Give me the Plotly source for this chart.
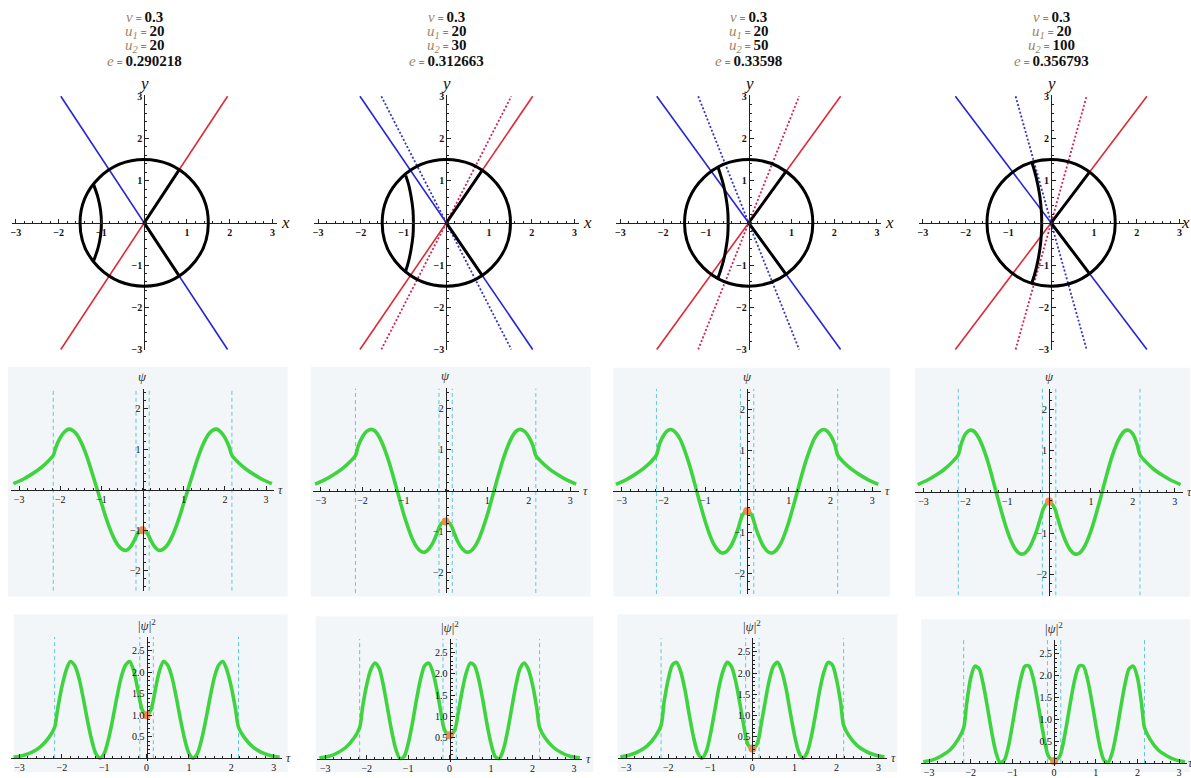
import math
import plotly.graph_objects as go

W, H = 1191, 778
SERIF = "Liberation Serif, Times New Roman, serif"
MINUS = "\u2212"

# parameters printed above each column
V_VAL = ["0.3", "0.3", "0.3", "0.3"]
U1_VAL = ["20", "20", "20", "20"]
U2_VAL = ["20", "30", "50", "100"]
E_VAL = ["0.290218", "0.312663", "0.33598", "0.356793"]

# phase-plane diagrams (top row)
CIRCLE_R = 1.5
LINE_Y_END = 3.0
SOLID_X_END = [1.95, 2.02, 2.15, 2.24]      # |x| where the solid red / blue lines reach y = ±3
DOTTED_X_END = [None, 1.52, 1.18, 0.83]     # same for the dotted pair
ARC_Y = [
    [0.90, 0.60, 0.30, 0.0, -0.30, -0.60, -0.92],
    [1.12, 0.90, 0.60, 0.30, 0.0, -0.30, -0.60, -0.90, -1.14],
    [1.30, 0.90, 0.60, 0.30, 0.0, -0.30, -0.60, -0.90, -1.32],
    [1.43, 1.20, 0.90, 0.60, 0.30, 0.0, -0.30, -0.60, -0.90, -1.20, -1.45],
]
ARC_X = [
    [-1.18, -1.08, -1.02, -1.00, -1.02, -1.08, -1.19],
    [-0.95, -0.88, -0.82, -0.78, -0.77, -0.78, -0.82, -0.88, -0.95],
    [-0.71, -0.59, -0.53, -0.49, -0.48, -0.49, -0.53, -0.59, -0.72],
    [-0.45, -0.38, -0.31, -0.26, -0.23, -0.22, -0.23, -0.26, -0.31, -0.38, -0.46],
]

# wave functions (middle and bottom rows)
TAU = [-3.14, -2.9, -2.7, -2.5, -2.3, -2.17, -2.1, -2.0, -1.9, -1.8, -1.7, -1.6, -1.5, -1.4,
       -1.3, -1.2, -1.1, -1.0, -0.9, -0.8, -0.7, -0.6, -0.5, -0.4, -0.3, -0.2, -0.15, -0.1,
       0.0, 0.1, 0.15, 0.2, 0.3, 0.4, 0.5, 0.6, 0.7, 0.8, 0.9, 1.0, 1.1, 1.2, 1.3, 1.4,
       1.5, 1.6, 1.7, 1.8, 1.9, 2.0, 2.1, 2.17, 2.3, 2.5, 2.7, 2.9, 3.14]

PSI_1 = [0.15, 0.26, 0.38, 0.52, 0.70, 0.85, 1.07, 1.29, 1.43, 1.50, 1.47, 1.37, 1.19, 0.95,
         0.66, 0.33, 0.00, -0.33, -0.66, -0.95, -1.19, -1.37, -1.47, -1.50, -1.42, -1.25, -1.14, -1.06,
         -1.00, -1.06, -1.14, -1.25, -1.42, -1.50, -1.47, -1.37, -1.19, -0.95, -0.66, -0.33, 0.00, 0.33,
         0.66, 0.95, 1.19, 1.37, 1.47, 1.50, 1.43, 1.29, 1.07, 0.85, 0.70, 0.52, 0.38, 0.26, 0.15]
PSI_2 = [0.16, 0.27, 0.39, 0.53, 0.71, 0.86, 1.10, 1.32, 1.45, 1.50, 1.46, 1.32, 1.10, 0.82,
         0.49, 0.13, -0.24, -0.60, -0.91, -1.18, -1.37, -1.48, -1.50, -1.42, -1.26, -1.02, -0.88, -0.80,
         -0.75, -0.80, -0.88, -1.02, -1.26, -1.42, -1.50, -1.48, -1.37, -1.18, -0.91, -0.60, -0.24, 0.13,
         0.49, 0.82, 1.10, 1.32, 1.46, 1.50, 1.45, 1.32, 1.10, 0.86, 0.71, 0.53, 0.39, 0.27, 0.16]
PSI_3 = [0.17, 0.28, 0.40, 0.54, 0.72, 0.88, 1.14, 1.36, 1.48, 1.50, 1.42, 1.26, 1.01, 0.71,
         0.36, -0.02, -0.39, -0.74, -1.04, -1.28, -1.43, -1.50, -1.47, -1.35, -1.14, -0.86, -0.68, -0.56,
         -0.48, -0.56, -0.68, -0.86, -1.14, -1.35, -1.47, -1.50, -1.43, -1.28, -1.04, -0.74, -0.39, -0.02,
         0.36, 0.71, 1.01, 1.26, 1.42, 1.50, 1.48, 1.36, 1.14, 0.88, 0.72, 0.54, 0.40, 0.28, 0.17]
PSI_4 = [0.18, 0.29, 0.41, 0.55, 0.74, 0.90, 1.16, 1.40, 1.49, 1.47, 1.34, 1.13, 0.85, 0.51,
         0.13, -0.25, -0.61, -0.94, -1.20, -1.39, -1.49, -1.49, -1.39, -1.20, -0.94, -0.61, -0.44, -0.33,
         -0.23, -0.33, -0.44, -0.61, -0.94, -1.20, -1.39, -1.49, -1.49, -1.39, -1.20, -0.94, -0.61, -0.25,
         0.13, 0.51, 0.85, 1.13, 1.34, 1.47, 1.49, 1.40, 1.16, 0.90, 0.74, 0.55, 0.41, 0.29, 0.18]

PSI_SQ_1 = [0.02, 0.07, 0.14, 0.27, 0.49, 0.72, 1.14, 1.66, 2.04, 2.25, 2.16, 1.88, 1.42, 0.90,
            0.44, 0.11, 0.00, 0.11, 0.44, 0.90, 1.42, 1.88, 2.16, 2.25, 2.02, 1.56, 1.30, 1.12,
            1.00, 1.12, 1.30, 1.56, 2.02, 2.25, 2.16, 1.88, 1.42, 0.90, 0.44, 0.11, 0.00, 0.11,
            0.44, 0.90, 1.42, 1.88, 2.16, 2.25, 2.04, 1.66, 1.14, 0.72, 0.49, 0.27, 0.14, 0.07, 0.02]
PSI_SQ_2 = [0.03, 0.07, 0.15, 0.28, 0.50, 0.74, 1.21, 1.74, 2.10, 2.25, 2.13, 1.74, 1.21, 0.67,
            0.24, 0.02, 0.06, 0.36, 0.83, 1.39, 1.88, 2.19, 2.25, 2.02, 1.59, 1.04, 0.77, 0.64,
            0.56, 0.64, 0.77, 1.04, 1.59, 2.02, 2.25, 2.19, 1.88, 1.39, 0.83, 0.36, 0.06, 0.02,
            0.24, 0.67, 1.21, 1.74, 2.13, 2.25, 2.10, 1.74, 1.21, 0.74, 0.50, 0.28, 0.15, 0.07, 0.03]
PSI_SQ_3 = [0.03, 0.08, 0.16, 0.29, 0.52, 0.77, 1.30, 1.85, 2.19, 2.25, 2.02, 1.59, 1.02, 0.50,
            0.13, 0.00, 0.15, 0.55, 1.08, 1.64, 2.04, 2.25, 2.16, 1.82, 1.30, 0.74, 0.46, 0.31,
            0.23, 0.31, 0.46, 0.74, 1.30, 1.82, 2.16, 2.25, 2.04, 1.64, 1.08, 0.55, 0.15, 0.00,
            0.13, 0.50, 1.02, 1.59, 2.02, 2.25, 2.19, 1.85, 1.30, 0.77, 0.52, 0.29, 0.16, 0.08, 0.03]
PSI_SQ_4 = [0.03, 0.08, 0.17, 0.30, 0.55, 0.81, 1.35, 1.96, 2.22, 2.16, 1.80, 1.28, 0.72, 0.26,
            0.02, 0.06, 0.37, 0.88, 1.44, 1.93, 2.22, 2.22, 1.93, 1.44, 0.88, 0.37, 0.19, 0.11,
            0.05, 0.11, 0.19, 0.37, 0.88, 1.44, 1.93, 2.22, 2.22, 1.93, 1.44, 0.88, 0.37, 0.06,
            0.02, 0.26, 0.72, 1.28, 1.80, 2.16, 2.22, 1.96, 1.35, 0.81, 0.55, 0.30, 0.17, 0.08, 0.03]

PSI = [PSI_1, PSI_2, PSI_3, PSI_4]
PSI_SQ = [PSI_SQ_1, PSI_SQ_2, PSI_SQ_3, PSI_SQ_4]
PSI_AT_0 = [-1.00, -0.75, -0.48, -0.23]
PSI_SQ_AT_0 = [1.00, 0.56, 0.23, 0.05]
DASH_TAU = [-2.17, -0.16, 0.16, 2.17]

# ---------------- page geometry (pixel origin of each panel, px per unit) ----------------
R1_ORIGIN = [(143.3, 221.0), (445.7, 221.0), (748.3, 221.0), (1051.0, 221.0)]
R1_S = 42.8
R1_XR, R1_YR = [-3.1, 3.1], [-3.02, 3.02]

R2_ORIGIN = [(141.7, 491.7), (445.0, 492.7), (746.7, 493.3), (1049.0, 494.0)]
R2_SX = [41.2, 41.6, 41.8, 41.9]
R2_SY = [41.0, 41.5, 41.7, 42.0]
R2_XR, R2_YR = [-3.2, 3.2], [-2.5, 2.5]

R3_ORIGIN = [(145.7, 764.0), (449.0, 765.0), (752.0, 764.0), (1054.0, 769.0)]
R3_SX = [42.4, 41.5, 42.1, 41.7]
R3_SY = [43.6, 43.3, 43.2, 44.3]
R3_XR, R3_YR = [-3.2, 3.2], [-0.06, 2.82]

R2_BOX = [(7, 367, 287, 600), (310, 367, 590, 600), (613, 368, 890, 600), (915, 368, 1190, 600)]
R3_BOX = [(13, 618, 287, 778), (315, 620, 593, 778), (617, 618, 897, 778), (921, 623, 1190, 778)]
TITLE_ROWS_PX = [12, 27, 42, 57]

GREEN = "#3fd43f"
ORANGE = "#f28a4a"
DASHC = "#62c6d6"
RED = "#dd2a36"
BLUE = "#2525d6"
RED_DOT = "#cf2457"
BLUE_DOT = "#3434c8"
TAN = "#9b8663"
PANEL_BG = "#f3f6f9"
AXC = "#222222"


def xdom(ox, s, r):
    return [(ox + r[0] * s) / W, (ox + r[1] * s) / W]


def ydom(oy, s, r):
    return [1 - (oy - r[0] * s) / H, 1 - (oy - r[1] * s) / H]


def num(v):
    s = ("%g" % abs(v))
    return (MINUS + s) if v < 0 else s


def axis(rng, dom, pos, side, vals, texts, minor, fsize):
    return dict(range=rng, domain=dom, anchor="free", position=pos, side=side,
                showline=True, linecolor=AXC, linewidth=1,
                ticks="inside", ticklen=4, tickwidth=1, tickcolor=AXC,
                tickmode="array", tickvals=vals, ticktext=texts,
                minor=dict(tick0=0, dtick=minor, ticks="inside", ticklen=2,
                           tickwidth=1, tickcolor=AXC, showgrid=False),
                showgrid=False, zeroline=False, fixedrange=True,
                tickfont=dict(family=SERIF, size=fsize, color="#111111"))


fig = go.Figure()
layout = {}
annotations = []
shapes = []


def refs(k):
    return ("x" if k == 1 else f"x{k}"), ("y" if k == 1 else f"y{k}")


def keys(k):
    return ("xaxis" if k == 1 else f"xaxis{k}"), ("yaxis" if k == 1 else f"yaxis{k}")


def param_line(sym, val):
    return (f"<span style='color:{TAN}'><i>{sym}</i></span>"
            f"<span style='font-size:11px'> = </span><b>{val}</b>")


def end_label(xr, yr, x, text, size, color, last_col):
    # axis name at the right-hand end of a horizontal axis
    return dict(xref=xr, yref=yr, x=x, y=0, xanchor="right" if last_col else "left",
                yanchor="middle", xshift=8 if last_col else 2, text=text, showarrow=False,
                font=dict(family=SERIF, size=size, color=color))


for c in range(4):
    last = c == 3
    # ---------------- top row: lines, circle and arcs ----------------
    k = c + 1
    xr, yr = refs(k)
    xk, yk = keys(k)
    ox, oy = R1_ORIGIN[c]
    t13 = [-3, -2, -1, 1, 2, 3]
    layout[xk] = axis(R1_XR, xdom(ox, R1_S, R1_XR), 1 - oy / H, "bottom",
                      t13, [f"<b>{num(v)}</b>" for v in t13], 0.2, 10)
    layout[yk] = axis(R1_YR, ydom(oy, R1_S, R1_YR), ox / W, "left",
                      t13, [f"<b>{num(v)}</b>" for v in t13], 0.2, 10)

    a = SOLID_X_END[c]
    fig.add_trace(go.Scatter(x=[-a, a], y=[-LINE_Y_END, LINE_Y_END], mode="lines",
                             line=dict(color=RED, width=1.6), xaxis=xr, yaxis=yr))
    fig.add_trace(go.Scatter(x=[-a, a], y=[LINE_Y_END, -LINE_Y_END], mode="lines",
                             line=dict(color=BLUE, width=1.6), xaxis=xr, yaxis=yr))
    d = DOTTED_X_END[c]
    if d is not None:
        fig.add_trace(go.Scatter(x=[-d, d], y=[-LINE_Y_END, LINE_Y_END], mode="lines",
                                 line=dict(color=RED_DOT, width=1.8, dash="2px,2px"),
                                 xaxis=xr, yaxis=yr))
        fig.add_trace(go.Scatter(x=[-d, d], y=[LINE_Y_END, -LINE_Y_END], mode="lines",
                                 line=dict(color=BLUE_DOT, width=1.8, dash="2px,2px"),
                                 xaxis=xr, yaxis=yr))
    # radial segments from the origin to the circle along the solid lines
    ang = math.atan2(LINE_Y_END, a)
    px, py = CIRCLE_R * math.cos(ang), CIRCLE_R * math.sin(ang)
    fig.add_trace(go.Scatter(x=[px, 0, px], y=[py, 0, -py], mode="lines",
                             line=dict(color="black", width=3), xaxis=xr, yaxis=yr))
    fig.add_trace(go.Scatter(x=ARC_X[c], y=ARC_Y[c], mode="lines",
                             line=dict(color="black", width=3, shape="spline"),
                             xaxis=xr, yaxis=yr))
    shapes.append(dict(type="circle", xref=xr, yref=yr, x0=-CIRCLE_R, y0=-CIRCLE_R,
                       x1=CIRCLE_R, y1=CIRCLE_R, line=dict(color="black", width=3),
                       layer="above"))
    annotations.append(end_label(xr, yr, R1_XR[1], "<i>x</i>", 17, "#111111", last))
    annotations.append(dict(xref=xr, yref=yr, x=0, y=R1_YR[1], xanchor="center", yanchor="bottom",
                            yshift=0, text="<i>y</i>", showarrow=False,
                            font=dict(family=SERIF, size=17, color="#111111")))
    for i, (sym, val) in enumerate([("v", V_VAL[c]), ("u<sub>1</sub>", U1_VAL[c]),
                                    ("u<sub>2</sub>", U2_VAL[c]), ("e", E_VAL[c])]):
        annotations.append(dict(xref=xr, yref="paper", x=0, y=1 - TITLE_ROWS_PX[i] / H,
                                xanchor="center", yanchor="middle", showarrow=False,
                                text=param_line(sym, val),
                                font=dict(family=SERIF, size=15, color="#111111")))

    # ---------------- middle row: psi ----------------
    k = c + 5
    xr, yr = refs(k)
    xk, yk = keys(k)
    ox, oy = R2_ORIGIN[c]
    tx = [-3, -2, -1, 1, 2, 3]
    ty = [-2, -1, 1, 2]
    layout[xk] = axis(R2_XR, xdom(ox, R2_SX[c], R2_XR), 1 - oy / H, "bottom",
                      tx, [num(v) for v in tx], 0.2, 10)
    layout[yk] = axis(R2_YR, ydom(oy, R2_SY[c], R2_YR), ox / W, "left",
                      ty, [num(v) for v in ty], 0.2, 10)
    x0, y0, x1, y1 = R2_BOX[c]
    shapes.append(dict(type="rect", xref="paper", yref="paper", x0=x0 / W, x1=x1 / W,
                       y0=1 - y1 / H, y1=1 - y0 / H, fillcolor=PANEL_BG,
                       line=dict(width=0), layer="below"))
    dx, dy = [], []
    for t in DASH_TAU:
        dx += [t, t, None]
        dy += [R2_YR[0], R2_YR[1], None]
    fig.add_trace(go.Scatter(x=dx, y=dy, mode="lines",
                             line=dict(color=DASHC, width=1, dash="4px,3px"),
                             xaxis=xr, yaxis=yr))
    fig.add_trace(go.Scatter(x=TAU, y=PSI[c], mode="lines",
                             line=dict(color=GREEN, width=3.6, shape="spline", smoothing=0.8),
                             xaxis=xr, yaxis=yr))
    fig.add_trace(go.Scatter(x=[0], y=[PSI_AT_0[c]], mode="markers", cliponaxis=False,
                             marker=dict(color=ORANGE, size=8), xaxis=xr, yaxis=yr))
    annotations.append(end_label(xr, yr, R2_XR[1], "<i>τ</i>", 12, "#333333", False))
    annotations.append(dict(xref=xr, yref=yr, x=0, y=R2_YR[1], xanchor="center", yanchor="bottom",
                            yshift=3, text="<i>ψ</i>", showarrow=False,
                            font=dict(family=SERIF, size=13, color="#333333")))

    # ---------------- bottom row: |psi|^2 ----------------
    k = c + 9
    xr, yr = refs(k)
    xk, yk = keys(k)
    ox, oy = R3_ORIGIN[c]
    tx = [-3, -2, -1, 0, 1, 2, 3]
    ty = [0.5, 1.0, 1.5, 2.0, 2.5]
    layout[xk] = axis(R3_XR, xdom(ox, R3_SX[c], R3_XR), 1 - oy / H, "bottom",
                      tx, [num(v) for v in tx], 0.2, 10)
    layout[yk] = axis(R3_YR, ydom(oy, R3_SY[c], R3_YR), ox / W, "left",
                      ty, ["%.1f" % v for v in ty], 0.1, 10)
    x0, y0, x1, y1 = R3_BOX[c]
    shapes.append(dict(type="rect", xref="paper", yref="paper", x0=x0 / W, x1=x1 / W,
                       y0=1 - y1 / H, y1=1 - y0 / H, fillcolor=PANEL_BG,
                       line=dict(width=0), layer="below"))
    dx, dy = [], []
    for t in DASH_TAU:
        dx += [t, t, None]
        dy += [0, R3_YR[1], None]
    fig.add_trace(go.Scatter(x=dx, y=dy, mode="lines",
                             line=dict(color=DASHC, width=1, dash="4px,3px"),
                             xaxis=xr, yaxis=yr))
    fig.add_trace(go.Scatter(x=TAU, y=PSI_SQ[c], mode="lines",
                             line=dict(color=GREEN, width=3.6, shape="spline", smoothing=0.8),
                             xaxis=xr, yaxis=yr))
    fig.add_trace(go.Scatter(x=[0], y=[PSI_SQ_AT_0[c]], mode="markers", cliponaxis=False,
                             marker=dict(color=ORANGE, size=8), xaxis=xr, yaxis=yr))
    annotations.append(end_label(xr, yr, R3_XR[1], "<i>τ</i>", 12, "#333333", last))
    annotations.append(dict(xref=xr, yref=yr, x=0, y=R3_YR[1], xanchor="center", yanchor="bottom",
                            yshift=2, text="|<i>ψ</i>|<sup>2</sup>", showarrow=False,
                            font=dict(family=SERIF, size=13, color="#333333")))

fig.update_layout(**layout)
fig.update_layout(width=W, height=H, margin=dict(l=0, r=0, t=0, b=0),
                  paper_bgcolor="white", plot_bgcolor="rgba(0,0,0,0)",
                  showlegend=False, annotations=annotations, shapes=shapes,
                  font=dict(family=SERIF))
fig.write_html("out.html", config={"displayModeBar": False})
